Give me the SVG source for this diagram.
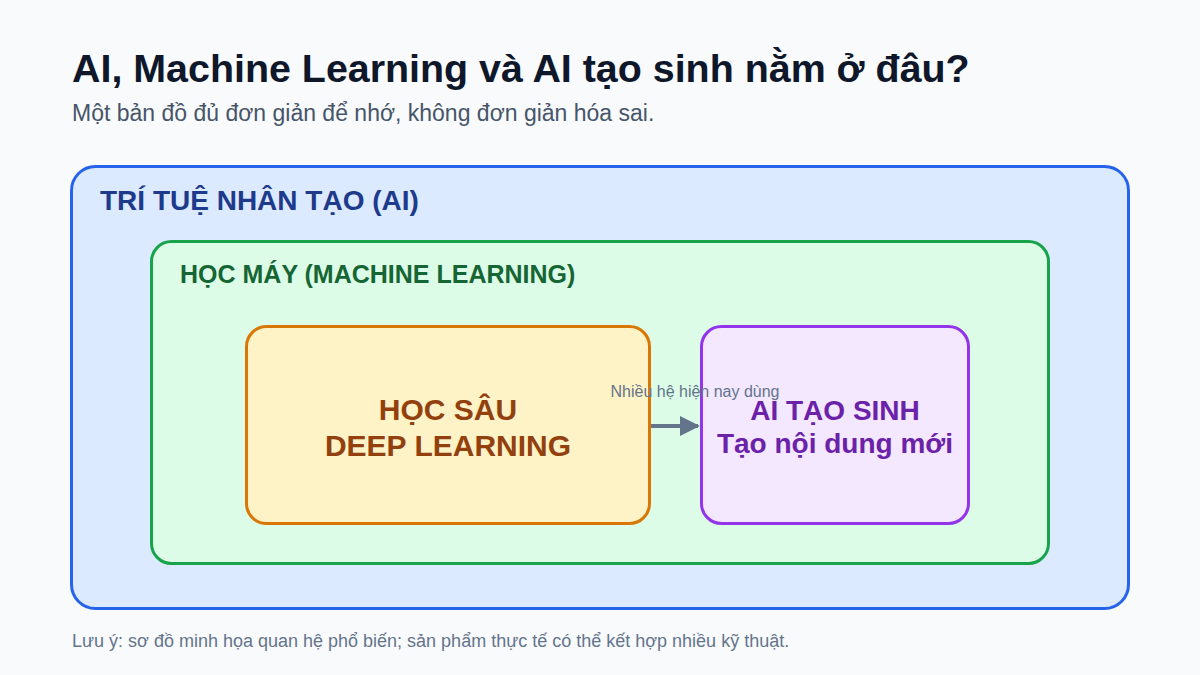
<svg xmlns="http://www.w3.org/2000/svg" width="1200" height="675" viewBox="0 0 1200 675">
<defs>
<style>
text{font-family:"Liberation Sans",Arial,sans-serif}
.title{font-size:39.4px;font-weight:bold;fill:#0f172a}
.sub{font-size:23px;fill:#475569}
.lbl{font-weight:bold}
.foot{font-size:18px;fill:#64748b}
.edge{stroke:#64748b;stroke-width:4;fill:none}
</style>
<marker id="ah" viewBox="0 0 10 10" refX="9" refY="5" markerWidth="5" markerHeight="5" orient="auto" markerUnits="strokeWidth">
<path d="M0,0 L10,5 L0,10 z" fill="#64748b"/>
</marker>
</defs>
<rect width="1200" height="675" fill="#f8fafc"/>
<text class="title" x="72" y="82">AI, Machine Learning và AI tạo sinh nằm ở đâu?</text>
<text class="sub" x="72" y="121">Một bản đồ đủ đơn giản để nhớ, không đơn giản hóa sai.</text>
<g id="ai">
<rect x="71.5" y="166.5" width="1057" height="442" rx="24" fill="#dbeafe" stroke="#2563eb" stroke-width="3"/>
<text class="lbl" x="100" y="210" font-size="28" fill="#1e3a8a">TRÍ TUỆ NHÂN TẠO (AI)</text>
</g>
<g id="ml">
<rect x="151.5" y="241.5" width="897" height="322" rx="20" fill="#dcfce7" stroke="#16a34a" stroke-width="3"/>
<text class="lbl" x="180" y="283" font-size="25" fill="#166534">HỌC MÁY (MACHINE LEARNING)</text>
</g>
<g id="dl">
<rect x="246.5" y="326.5" width="403" height="197" rx="20" fill="#fef3c7" stroke="#d97706" stroke-width="3"/>
<text class="lbl" x="448" y="420" font-size="30" fill="#92400e" text-anchor="middle">HỌC SÂU</text>
<text class="lbl" x="448" y="456" font-size="30" fill="#92400e" text-anchor="middle">DEEP LEARNING</text>
</g>
<g id="gen">
<rect x="701.5" y="326.5" width="267" height="197" rx="20" fill="#f3e8ff" stroke="#9333ea" stroke-width="3"/>
<text class="lbl" x="835" y="420" font-size="28" fill="#6b21a8" text-anchor="middle">AI TẠO SINH</text>
<text class="lbl" x="835" y="453" font-size="28" fill="#6b21a8" text-anchor="middle">Tạo nội dung mới</text>
</g>
<g id="connectors">
<line class="edge" x1="651" y1="426" x2="698" y2="426" marker-end="url(#ah)"/>
<text x="695" y="397" font-size="16" fill="#64748b" text-anchor="middle">Nhiều hệ hiện nay dùng</text>
</g>
<text class="foot" x="72" y="647">Lưu ý: sơ đồ minh họa quan hệ phổ biến; sản phẩm thực tế có thể kết hợp nhiều kỹ thuật.</text>
</svg>
